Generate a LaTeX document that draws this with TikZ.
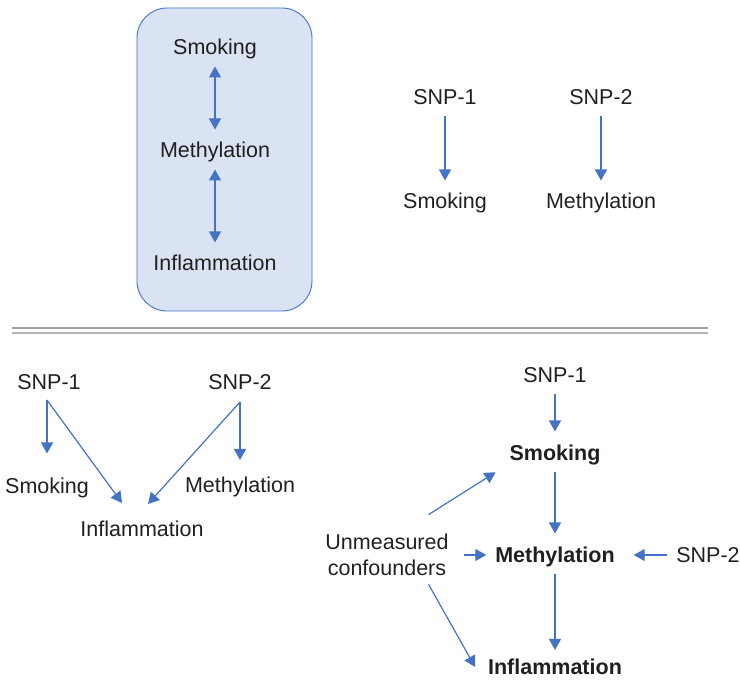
\documentclass[tikz,border=0pt]{standalone}
\usepackage{fontspec}
\setmainfont{Liberation Sans}
\usetikzlibrary{arrows.meta}
\definecolor{linkblue}{RGB}{68,114,196}
\definecolor{boxfill}{RGB}{218,227,243}
\definecolor{txtgray}{RGB}{35,31,32}
\definecolor{rulegray}{RGB}{160,160,160}

\begin{document}
\begin{tikzpicture}
	[x=10pt,y=10pt,
	lbl/.style={inner sep=0pt, outer sep=0pt, text height=15pt, text depth=0pt, text=txtgray, font=\fontsize{21.5}{26}\selectfont},
	blbl/.style={lbl, font=\fontsize{21.5}{26}\selectfont\bfseries},
	link/.style={-{Triangle[length=11pt,width=12pt]}, draw=linkblue, line width=1.2pt, shorten <=12pt, shorten >=13pt},
	dlink/.style={link, {Triangle[length=11pt,width=12pt]}-{Triangle[length=11pt,width=12pt]}}]

	\useasboundingbox (0,0) rectangle (74,68);

	%Box
	\draw[draw=linkblue, fill=boxfill, line width=0.9pt, rounded corners=30pt] (13.7,36.9) rectangle (31.2,67.2);
	\node[lbl] (tsmok) at (21.5,63.3) {Smoking};
	\node[lbl] (tmeth) at (21.5,53.0) {Methylation};
	\node[lbl] (tinfl) at (21.5,41.7) {Inflammation};
	\draw[dlink] (tsmok) -- (tmeth);
	\draw[dlink] (tmeth) -- (tinfl);

	%Top right
	\node[lbl] (tsnpa) at (44.5,58.3) {SNP-1};
	\node[lbl] (tsnpb) at (60.1,58.3) {SNP-2};
	\node[lbl] (trsmok) at (44.5,47.9) {Smoking};
	\node[lbl] (trmeth) at (60.1,47.9) {Methylation};
	\draw[link] (tsnpa) -- (trsmok);
	\draw[link] (tsnpb) -- (trmeth);

	%Divider
	\draw[rulegray, line width=1.3pt] (1.2,35.2) -- (70.8,35.2);
	\draw[rulegray!80, line width=1.3pt] (1.2,34.7) -- (70.8,34.7);

	%Bottom left
	\node[lbl] (lsnpa) at (4.9,29.8) {SNP-1};
	\node[lbl] (lsnpb) at (24.0,29.8) {SNP-2};
	\node[lbl] (lsmok) at (4.7,19.4) {Smoking};
	\node[lbl] (lmeth) at (24.0,19.5) {Methylation};
	\node[lbl] (linfl) at (14.2,15.1) {Inflammation};
	\draw[link, shorten <=0pt, shorten >=0pt] ([shift={(-0.2,-1.05)}]lsnpa.south) -- ([yshift=25pt]lsmok.north);
	\draw[link, shorten <=0pt, shorten >=0pt] ([shift={(-0.2,-1.05)}]lsnpa.south) -- ([shift={(-2.0,1.85)}]linfl.north);
	\draw[link, shorten <=0pt, shorten >=0pt] ([yshift=-12.5pt]lsnpb.south) -- ([yshift=17.5pt]lmeth.north);
	\draw[link, shorten <=0pt, shorten >=0pt] ([yshift=-12.5pt]lsnpb.south) -- ([shift={(0.6,1.75)}]linfl.north);

	%Bottom right
	\node[lbl] (rsnpa) at (55.5,30.5) {SNP-1};
	\node[blbl] (rsmok) at (55.5,22.7) {Smoking};
	\node[blbl] (rmeth) at (55.5,12.5) {Methylation};
	\node[blbl] (rinfl) at (55.5,1.3) {Inflammation};
	\node[lbl] (rsnpb) at (70.8,12.5) {SNP-2};
	\node[inner sep=0pt, outer sep=0pt, align=center, text=txtgray, font=\fontsize{21.5}{26}\selectfont] (unm) at (38.7,12.5) {Unmeasured\\confounders};
	\draw[link, shorten >=14pt] (rsnpa) -- (rsmok);
	\draw[link, shorten >=14pt] (rsmok) -- (rmeth);
	\draw[link, shorten >=9.5pt] (rmeth) -- (rinfl);
	\draw[link, shorten <=15pt, shorten >=9pt] (unm) -- (rmeth);
	\draw[link, shorten <=9pt, shorten >=19pt] (rsnpb) -- (rmeth);
	\draw[link, shorten <=0pt, shorten >=0pt] ([shift={(-2.0,1.95)}]unm.north east) -- ([shift={(-1.4,-1.175)}]rsmok.south west);
	\draw[link, shorten <=0pt, shorten >=0pt] ([shift={(-2.0,-0.85)}]unm.south east) -- ([xshift=-13pt]rinfl.west);
\end{tikzpicture}
\end{document}
